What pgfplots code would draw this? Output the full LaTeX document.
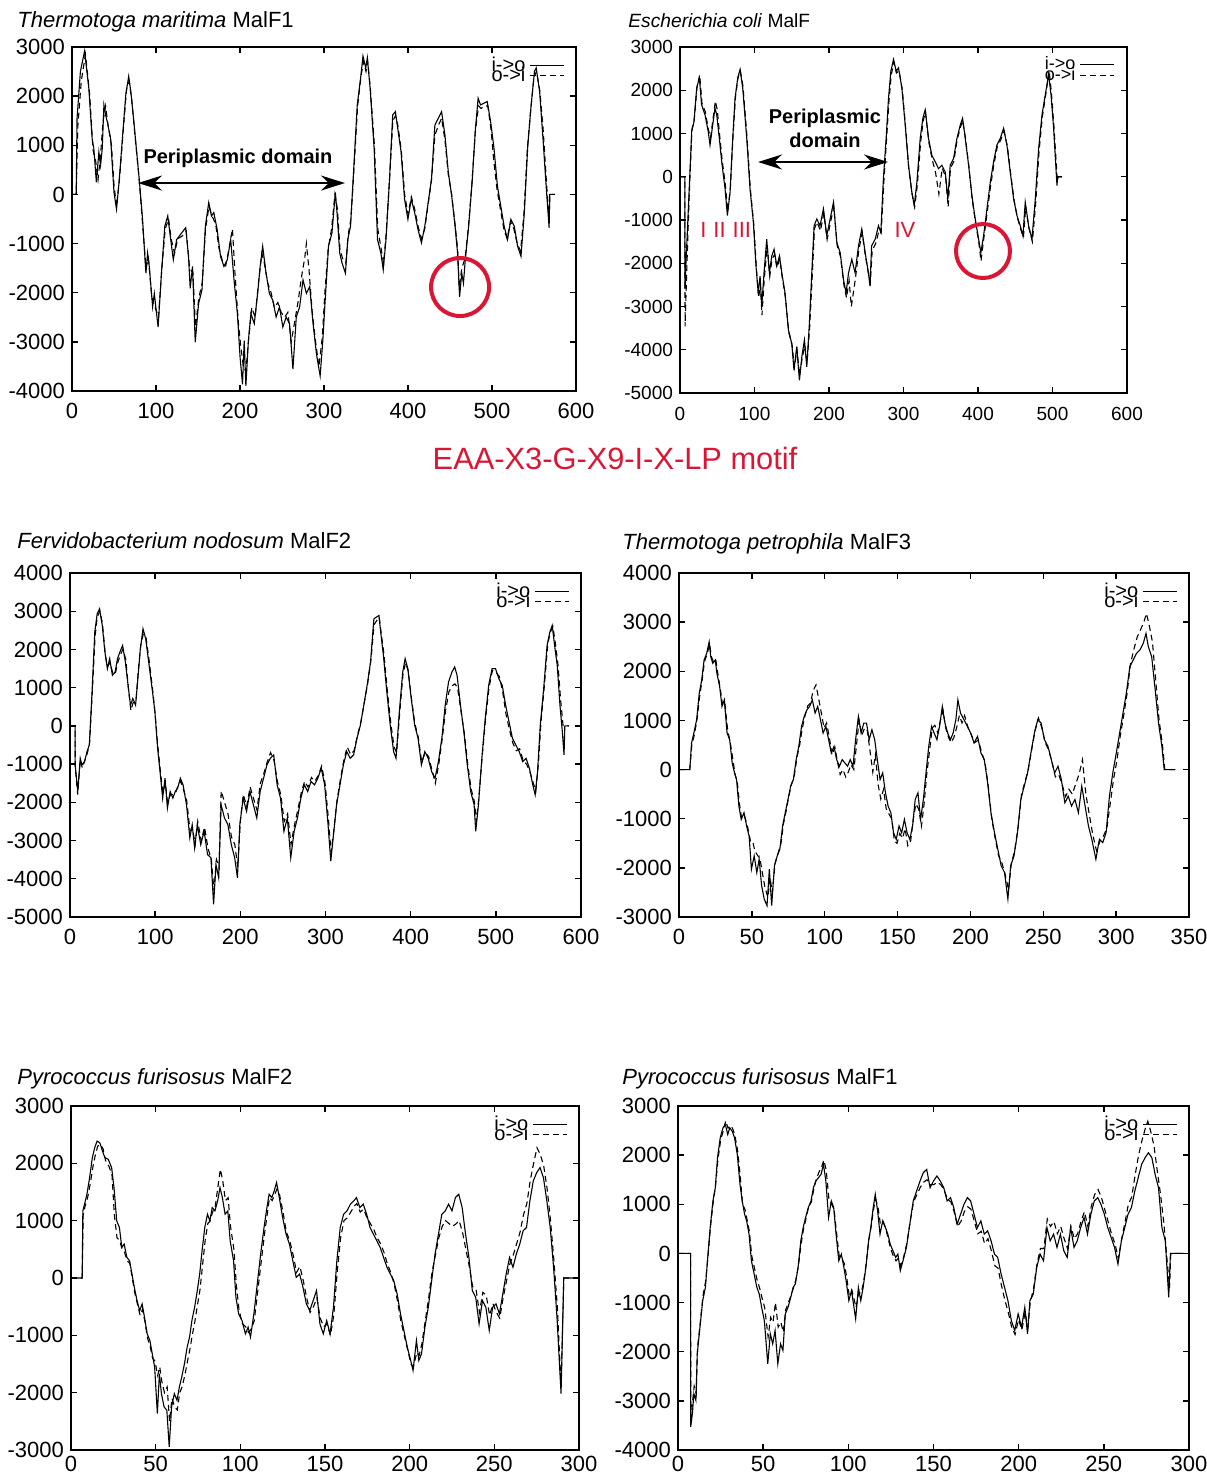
\documentclass[border=0pt]{standalone}
\usepackage{fontspec}
\setmainfont{Liberation Sans}
\usepackage{pgfplots}
\pgfplotsset{compat=1.18}
\usetikzlibrary{arrows.meta}
\definecolor{motifred}{RGB}{218,22,52}
\pgfplotsset{
  panel/.style={
    scale only axis, anchor=north west, clip=true,
    axis line style={line width=0.9pt},
    every tick/.style={black, line width=0.7pt},
    major tick length=3pt, tick align=inside, tick pos=both,
    scaled ticks=false,
    tick label style={font=\fontsize{11}{13}\selectfont},
    legend plot pos=right,
    legend style={draw=none, fill=none, anchor=north east, at={(0.978,0.985)},
      font=\fontsize{10}{10}\selectfont, row sep=-7.5pt, inner sep=0pt,
      cells={anchor=east}},
    legend image code/.code={\draw[##1] (0pt,0pt) -- (17pt,0pt);},
  },
  s/.style={black, line width=0.55pt},
  d/.style={black, line width=0.55pt, dash pattern=on 3pt off 2pt},
}
\begin{document}
\begin{tikzpicture}
\path[use as bounding box] (0,0) rectangle (603pt,-739.5pt);

% titles
\node[anchor=west, inner sep=0pt, font=\fontsize{11}{13}\selectfont] at (8.5pt,-11pt) {\textit{Thermotoga maritima} MalF1};
\node[anchor=west, inner sep=0pt, font=\fontsize{9.6}{11}\selectfont] at (314pt,-10.5pt) {\textit{Escherichia coli} MalF};
\node[anchor=west, inner sep=0pt, font=\fontsize{11}{13}\selectfont] at (8.5pt,-270.5pt) {\textit{Fervidobacterium nodosum} MalF2};
\node[anchor=west, inner sep=0pt, font=\fontsize{11}{13}\selectfont] at (311pt,-272pt) {\textit{Thermotoga petrophila} MalF3};
\node[anchor=west, inner sep=0pt, font=\fontsize{11}{13}\selectfont] at (8.5pt,-539.5pt) {\textit{Pyrococcus furisosus} MalF2};
\node[anchor=west, inner sep=0pt, font=\fontsize{11}{13}\selectfont] at (311pt,-539.5pt) {\textit{Pyrococcus furisosus} MalF1};
\node[text=motifred, font=\fontsize{15.4}{18}\selectfont] at (307.5pt,-229pt) {EAA-X3-G-X9-I-X-LP motif};

% ---------------- Panel 1 ----------------
\begin{axis}[panel, at={(36pt,-23.5pt)}, width=252pt, height=172pt,
  xticklabel style={yshift=-2.5pt},
  xmin=0, xmax=600, ymin=-4000, ymax=3000,
  xtick={0,100,...,600}, xticklabels={0,100,200,300,400,500,600},
  ytick={-4000,-3000,...,3000}, yticklabels={-4000,-3000,-2000,-1000,0,1000,2000,3000}]
\addplot[s] coordinates {(0,0)(5,0)(6,1548)(10,2500)(15,2918)(20,2164)(24,1137)(26,931)(29,247)(32,863)(34,589)(36,931)(38,1822)(40,1617)(42,1480)(46,1137)(50,41)(53,-301)(56,247)(60,1137)(64,2027)(67.5,2404)(70,2096)(74,1411)(80,315)(84,-507)(88,-1603)(90,-1192)(92,-1466)(96,-2288)(98,-2014)(102.5,-2699)(106.5,-1603)(110.5,-644)(114,-438)(116.5,-781)(120.6,-1329)(124.6,-918)(130.6,-781)(135.4,-678)(138.7,-1260)(140.7,-1911)(143.5,-1466)(146.7,-3007)(150.7,-2219)(154.7,-1945)(158.8,-644)(162.8,-164)(166,-438)(168.8,-370)(172.8,-712)(176.8,-1260)(180.9,-1466)(184.9,-1329)(188.9,-918)(192.9,-1740)(196.9,-2425)(200.1,-3315)(203,-3863)(205,-2973)(207,-3897)(210,-2973)(213,-2425)(217,-2630)(221,-2014)(224,-1466)(227,-1055)(231,-1603)(235,-2014)(239,-2151)(243,-2493)(247,-2288)(251,-2699)(255,-2493)(259,-2630)(263,-3555)(267,-2493)(271,-2288)(275,-1740)(279,-2014)(283,-1877)(287,-2630)(291,-3247)(295.4,-3692)(298.6,-2973)(301.4,-2151)(305.4,-1055)(309.5,-781)(313.5,41)(315.5,-370)(318.7,-1192)(321.5,-1397)(325.5,-1603)(328.3,-918)(331.6,-644)(335.6,589)(339.6,1822)(343.6,2370)(346.4,2815)(349.7,2575)(351.6,2781)(354.9,2164)(359.7,931)(363.7,-918)(367.7,-1192)(370.5,-1534)(373.8,-918)(377.8,247)(381.8,1617)(385,1685)(387.8,1343)(391.8,863)(395.9,-96)(399.9,-507)(403.9,-96)(407.9,-370)(411.9,-712)(416,-986)(420,-644)(424,-164)(428,315)(432,1411)(436,1548)(440,1685)(444,1206)(448,452)(452,-27)(456,-644)(459,-1192)(461.4,-2082)(464,-1603)(466,-1808)(468.2,-1329)(472.2,-644)(476.3,247)(480.3,1343)(483.5,1959)(486.3,1822)(490.3,1856)(494.3,1890)(498.4,1480)(502.4,931)(506.4,178)(510.4,-233)(514.4,-644)(518.5,-918)(522.5,-507)(526.5,-644)(530.5,-1055)(534.5,-1260)(538.5,-370)(542.6,1000)(546.6,1822)(550.6,2507)(552.6,2575)(556.7,2096)(560.7,1137)(564.7,110)(568,-678)(568.7,0)(574.7,0)};
\addplot[d] coordinates {(0,0)(5,0)(7,1400)(11,2300)(16,2850)(21,2050)(25,900)(28,700)(31,300)(34,800)(37,1500)(40,1800)(43,1400)(47,1000)(50,200)(53,-250)(57,400)(61,1300)(65,2150)(68,2300)(71,1950)(75,1200)(80,300)(84,-600)(88,-1500)(91,-1300)(95,-2100)(99,-2300)(103,-2500)(107,-1500)(111,-700)(115,-500)(118,-900)(122,-1200)(126,-900)(131,-850)(136,-750)(140,-1500)(144,-1600)(147,-2700)(151,-2100)(155,-1800)(159,-700)(163,-250)(167,-450)(171,-600)(175,-1100)(179,-1350)(183,-1450)(187,-1100)(191,-700)(194,-1600)(198,-2600)(201,-3100)(204,-3500)(207,-3600)(210,-3000)(214,-2300)(218,-2500)(222,-1800)(226,-1200)(229,-1400)(233,-1800)(237,-2000)(241,-2300)(245,-2200)(249,-2400)(253,-2500)(257,-2400)(261,-3000)(265,-2600)(269,-2200)(273,-1700)(277,-1300)(279,-1000)(282,-1500)(286,-2400)(290,-3000)(294,-3500)(298,-2900)(301,-2000)(305,-1100)(309,-700)(313,0)(316,-300)(319,-1100)(322,-1300)(326,-1400)(329,-800)(332,-500)(336,600)(340,1800)(344,2400)(347,2700)(350,2500)(352,2700)(355,2200)(360,1000)(364,-700)(368,-1100)(371,-1400)(374,-800)(378,300)(382,1500)(385,1600)(388,1400)(392,900)(396,0)(400,-400)(404,-50)(408,-300)(412,-650)(416,-900)(420,-700)(424,-200)(428,300)(432,1200)(436,1400)(440,1550)(444,1100)(448,400)(452,0)(456,-600)(459,-1100)(461,-1900)(464,-1500)(468,-1300)(472,-650)(476,200)(480,1250)(484,1800)(487,1750)(491,1800)(495,1800)(499,1300)(502,700)(506,100)(510,-300)(514,-700)(518,-900)(522,-550)(526,-700)(530,-1000)(534,-1150)(538,-400)(542,900)(546,1700)(550,2400)(553,2500)(557,2100)(561,1300)(565,200)(568,-500)(569,0)(575,0)};
\legend{i->o,o->i}
\node[font=\bfseries\fontsize{10}{12}\selectfont] at (axis cs:197.6,741) {Periplasmic domain};
\draw[{Stealth[length=12pt,width=7.5pt]}-{Stealth[length=12pt,width=7.5pt]}, line width=0.9pt] (axis cs:78.6,232) -- (axis cs:325,232);
\draw[motifred, line width=2pt] (axis cs:462,-1884) circle[radius=14.5pt];
\end{axis}

% ---------------- Panel 2 ----------------
\begin{axis}[panel, at={(340pt,-23.5pt)}, width=223.5pt, height=173pt,
  tick label style={font=\fontsize{9.5}{11}\selectfont},
  xticklabel style={yshift=-3.5pt},
  legend style={font=\fontsize{9}{9}\selectfont, at={(0.973,0.985)}, row sep=-6.5pt},
  xmin=0, xmax=600, ymin=-5000, ymax=3000,
  xtick={0,100,...,600}, xticklabels={0,100,200,300,400,500,600},
  ytick={-5000,-4000,...,3000}, yticklabels={-5000,-4000,-3000,-2000,-1000,0,1000,2000,3000}]
\addplot[s] coordinates {(0,0)(6.5,0)(6.7,-2600)(8,-2000)(11,-821)(15.7,1043)(18.8,1276)(22.4,2052)(26,2285)(29,1664)(33.6,1431)(37.9,1043)(40.3,732)(43.9,1198)(47,1586)(49.3,1431)(52.8,887)(56,344)(60.5,-280)(63.6,-899)(67.2,-357)(70.8,887)(73.9,1819)(77.5,2285)(80.6,2480)(84.2,2052)(89.6,887)(94,-280)(98.5,-1054)(102,-2064)(105,-2686)(107.5,-2297)(109.7,-2996)(112.8,-2220)(116.4,-1443)(120,-2220)(123.2,-1831)(126.3,-1676)(129.9,-2064)(133.5,-1831)(136.6,-2220)(141,-2686)(145.5,-3540)(150,-3851)(153,-4472)(156.7,-3929)(160.3,-4705)(163.5,-4162)(167,-3773)(170.2,-4394)(173.7,-3385)(176.9,-2220)(180,-1132)(183.6,-977)(188,-1132)(192.5,-744)(197,-1365)(201.5,-977)(206,-589)(210.5,-1520)(215,-1753)(219.4,-2375)(223,-2686)(226.2,-2220)(230.6,-1909)(235,-2220)(239.6,-1598)(244,-1210)(248.5,-1753)(252.9,-2220)(255,-2530)(257.2,-1598)(262,-1443)(266.4,-1132)(269.6,-1287)(273,-47)(276.7,887)(279.9,1819)(283,2441)(286.6,2713)(290.2,2441)(293.3,2518)(297.8,2052)(302.3,1198)(306.7,266)(311.2,-357)(314.4,-666)(318,-124)(322.4,887)(326,1353)(329.1,1547)(333.6,887)(338,499)(342.6,344)(347,189)(351.5,266)(356,111)(359.6,-512)(362.7,266)(367.2,422)(371.7,887)(376.2,1198)(379.3,1353)(382.9,887)(387.4,266)(391.8,-435)(396.3,-977)(400.8,-1443)(403.9,-1753)(407.5,-1365)(412,-744)(416.5,-124)(420.9,344)(425.4,732)(429.9,887)(434.4,1120)(438.8,732)(443.3,111)(447.8,-512)(452.3,-899)(456.7,-1132)(460.3,-1365)(463.4,-589)(467.9,-1132)(472.4,-1443)(476.9,-512)(481.4,655)(485.9,1431)(490.3,1897)(494.8,2363)(498,1897)(501.5,1120)(506,-202)(507,0)(513,0)};
\addplot[d] coordinates {(0,0)(6.5,0)(6.8,-3460)(9,-2200)(12,-600)(16,1100)(19,1300)(23,2100)(26.5,2350)(29.5,1700)(34,1500)(38,1100)(41,900)(44,1300)(47.5,1750)(50,1550)(53,1000)(56.5,400)(61,-200)(64,-800)(67.5,-300)(71,900)(74.5,1850)(78,2300)(81,2450)(84.5,2100)(90,900)(94.5,-300)(99,-1100)(102.5,-2100)(105.5,-2800)(108,-2500)(110,-3200)(113,-2400)(117,-1600)(120.5,-2300)(123.5,-1900)(127,-1800)(130,-2100)(134,-1900)(137,-2300)(141.5,-2800)(146,-3600)(150.5,-3900)(153.5,-4400)(157,-4000)(160.5,-4600)(164,-4200)(167.5,-3900)(170.5,-4300)(174,-3500)(177.5,-2300)(180.5,-1200)(184,-1050)(188.5,-1250)(193,-850)(197.5,-1450)(202,-1050)(206.5,-700)(211,-1600)(215.5,-1850)(220,-2500)(223.5,-2800)(227,-2400)(230,-3000)(235.5,-2350)(240,-1700)(244.5,-1300)(249,-1850)(253.5,-2300)(255.5,-2450)(258,-1700)(262.5,-1550)(267,-1250)(270,-1300)(273.5,-150)(277,800)(280.5,1750)(283.5,2350)(287,2650)(290.5,2400)(294,2450)(298.5,2000)(303,1100)(307,200)(311.5,-400)(315,-700)(318.5,-200)(323,800)(326.5,1300)(329.5,1500)(334,800)(338.5,400)(343,100)(347.5,-400)(352,200)(356.5,0)(360,-700)(363,200)(367.5,350)(372,850)(376.5,1150)(379.5,1300)(383.5,850)(388,200)(392,-500)(396.5,-1050)(401,-1500)(404,-1950)(408,-1400)(412.5,-800)(417,-200)(421.5,300)(426,700)(430.5,850)(435,1050)(439.5,700)(444,50)(448.5,-550)(453,-950)(457,-1200)(461,-1400)(464,-700)(468.5,-1200)(473,-1500)(477.5,-600)(482,600)(486.5,1400)(491,1900)(495.5,2450)(498.5,1950)(502,1150)(506.5,-100)(507.5,0)(513,0)};
\legend{i->o,o->i}
\node[font=\bfseries\fontsize{10}{12}\selectfont, align=center] at (axis cs:194.6,1127) {Periplasmic\\domain};
\draw[{Stealth[length=12pt,width=7.5pt]}-{Stealth[length=12pt,width=7.5pt]}, line width=0.9pt] (axis cs:104.7,341) -- (axis cs:279.2,341);
\node[anchor=west, text=motifred, font=\fontsize{11}{13}\selectfont, inner sep=0pt] at (axis cs:26.8,-1231) {I\hspace{3.5pt}II\hspace{3.5pt}III};
\node[text=motifred, font=\fontsize{11}{13}\selectfont] at (axis cs:302,-1231) {IV};
\draw[motifred, line width=2pt] (axis cs:406.7,-1717) circle[radius=13.5pt];
\end{axis}

% ---------------- Panel 3 ----------------
\begin{axis}[panel, at={(35pt,-286.5pt)}, width=255.5pt, height=172pt,
  xticklabel style={yshift=-2.5pt},
  xmin=0, xmax=600, ymin=-5000, ymax=4000,
  xtick={0,100,...,600}, xticklabels={0,100,200,300,400,500,600},
  ytick={-5000,-4000,...,4000}, yticklabels={-5000,-4000,-3000,-2000,-1000,0,1000,2000,3000,4000}]
\addplot[s] coordinates {(0,0)(6,0)(6.1,-1025)(9.2,-1716)(12,-847)(14,-1021)(17.1,-934)(20,-673)(22.7,-500)(25.9,890)(29.1,2454)(31.9,2932)(34.7,3062)(37.9,2627)(41,1933)(43.9,1498)(46.6,1759)(49.8,1324)(53,1411)(55.8,1759)(58.6,1933)(61.8,2106)(65,1672)(68.2,1064)(71,543)(73.8,716)(77,543)(79.7,1238)(82.5,1994)(85.7,2541)(88.9,2280)(92.9,1585)(96.9,890)(99.7,369)(102.9,-586)(105.7,-1195)(108.8,-1890)(111.6,-1369)(114.4,-2150)(117.6,-1716)(120.8,-1890)(123.6,-1716)(126.4,-1629)(129.6,-1369)(132.8,-1542)(136.8,-2063)(140.7,-2932)(143.5,-2584)(146.3,-3193)(149.5,-2584)(153.5,-3106)(157.5,-2758)(161.5,-3366)(165.5,-3453)(168.6,-4670)(171.4,-3627)(174.6,-3975)(177.4,-2063)(181.4,-2410)(185.4,-2584)(189.4,-3106)(193.4,-3453)(196.6,-3975)(199.4,-2584)(203.3,-1890)(207.3,-2237)(211.3,-1716)(215.3,-2063)(219.3,-2410)(223.3,-1716)(227.3,-1369)(231.2,-1021)(235.2,-847)(239.2,-760)(243.2,-1542)(247.2,-1890)(251.2,-2758)(255.2,-2410)(259.2,-3453)(263.2,-2758)(267.1,-2410)(271.1,-1890)(275.1,-1542)(279.1,-1716)(283.1,-1455)(287.1,-1542)(291,-1369)(295,-1108)(299,-1542)(303,-2584)(306.2,-3540)(309,-2932)(313,-2063)(317,-1542)(321,-1021)(325,-673)(329,-847)(333,-760)(337,-326)(341,21)(345,543)(348.9,1064)(352.9,1672)(356.8,2801)(359.6,2845)(362.8,2888)(364.8,2454)(368,1846)(372,890)(376,21)(380,-673)(382.8,-847)(386.7,369)(390.7,1411)(393.5,1759)(396.7,1498)(400.7,716)(404.7,21)(408.7,-326)(412.6,-1021)(416.6,-673)(420.6,-847)(424.6,-1195)(428.6,-1369)(432.6,-934)(436.6,-326)(440.6,543)(444.5,1151)(448.5,1411)(451.7,1542)(454.5,1324)(458.5,543)(462.5,-152)(466.5,-1021)(470.5,-1716)(474.5,-2063)(476.4,-2758)(479.6,-2063)(483.6,-847)(487.6,195)(491.6,1064)(495.6,1498)(499.6,1498)(503.5,1238)(507.5,1064)(511.5,543)(515.5,108)(519.5,-326)(523.5,-500)(527.5,-673)(531.5,-934)(535.5,-847)(539.4,-1108)(543.4,-1542)(546.2,-1803)(549,-1195)(552.2,21)(556.2,977)(560.2,2106)(563.4,2454)(566.2,2627)(569,2106)(572.1,1585)(575.3,543)(578.1,-152)(580.1,-760)(581,0)(586,0)};
\addplot[d] coordinates {(0,0)(6,0)(6.2,-1100)(9,-1800)(12,-900)(14.5,-1100)(17.5,-900)(20.5,-700)(23,-450)(26,800)(29.5,2350)(32,2850)(35,3000)(38,2700)(41.5,1850)(44,1550)(47,1650)(50,1400)(53,1350)(56,1650)(59,1850)(62,2000)(65.5,1750)(68.5,1000)(71.5,400)(74,600)(77.5,650)(80,1400)(83,2100)(86,2400)(89,2350)(93,1700)(97,950)(100,300)(103,-500)(106,-1150)(109,-1750)(112,-1500)(114.5,-2000)(118,-1800)(121,-1800)(124,-1750)(127,-1550)(130,-1450)(133,-1650)(137,-1950)(141,-2750)(144,-2700)(147,-3100)(150,-2500)(154,-3000)(158,-2650)(162,-3200)(166,-3500)(169,-4300)(172,-3500)(175,-3700)(177.5,-1700)(181.5,-2000)(185.5,-2300)(189.5,-2900)(193.5,-3100)(197,-3700)(200,-2500)(203.5,-1800)(207.5,-2100)(211.5,-1600)(215.5,-1900)(219.5,-2200)(223.5,-1500)(227.5,-1250)(231.5,-950)(235.5,-700)(239.5,-900)(243.5,-1450)(247.5,-1800)(251.5,-2500)(255.5,-2300)(259.5,-3100)(263.5,-2600)(267.5,-2200)(271.5,-1750)(275.5,-1450)(279.5,-1600)(283.5,-1350)(287.5,-1450)(291.5,-1300)(295.5,-1050)(299.5,-1500)(303.5,-2450)(306.5,-3300)(309.5,-2800)(313.5,-1950)(317.5,-1400)(321.5,-900)(325.5,-550)(329.5,-750)(333.5,-650)(337.5,-250)(341.5,100)(345.5,600)(349.5,1100)(353.5,1750)(357,2650)(360,2750)(363,2850)(365,2500)(368.5,1900)(372.5,950)(376.5,100)(380.5,-550)(383.5,-700)(387,300)(391,1350)(394,1650)(397,1450)(401,700)(405,50)(409,-300)(413,-950)(417,-700)(421,-800)(425,-1150)(429,-1500)(433,-1000)(437,-350)(441,400)(445,900)(449,1050)(452,1100)(455,1000)(459,400)(463,-200)(467,-1000)(471,-1650)(475,-2000)(477,-2500)(480,-1900)(484,-800)(488,200)(492,1000)(496,1450)(500,1400)(504,1300)(508,900)(512,300)(516,-100)(520,-450)(524,-650)(528,-600)(532,-900)(536,-1000)(540,-1200)(544,-1500)(547,-1700)(550,-1000)(553,100)(557,1050)(561,2150)(564,2450)(567,2600)(570,2150)(573,1600)(576,700)(579,0)(581,0)(586,0)};
\legend{i->o,o->i}
\end{axis}

% ---------------- Panel 4 ----------------
\begin{axis}[panel, at={(339.5pt,-286.5pt)}, width=255pt, height=172pt,
  xticklabel style={yshift=-2.5pt},
  xmin=0, xmax=350, ymin=-3000, ymax=4000,
  xtick={0,50,...,350}, xticklabels={0,50,100,150,200,250,300,350},
  ytick={-3000,-2000,...,4000}, yticklabels={-3000,-2000,-1000,0,1000,2000,3000,4000}]
\addplot[s] coordinates {(0,0)(7.4,0)(8.6,541)(10.2,743)(12.1,1014)(13.9,1554)(15.6,1824)(17.2,2230)(19,2365)(20.7,2601)(21.8,2297)(23.2,2162)(24.9,2230)(26,1959)(27.9,1689)(29.5,1284)(31.1,1419)(33,743)(34.8,608)(36.5,135)(38.1,-68)(39.5,-203)(41.1,-743)(42.7,-1014)(44.6,-878)(46.4,-1149)(48.1,-1351)(49.7,-2027)(51.6,-1757)(53.4,-2095)(55,-1824)(56.7,-2365)(58.5,-2635)(60.4,-2770)(62,-2027)(63.6,-2770)(65.5,-1959)(67.4,-1757)(69.2,-1622)(71.1,-1149)(72.9,-878)(74.8,-608)(76.6,-338)(78.5,-203)(80.4,203)(82.2,473)(84.1,878)(85.9,1081)(87.8,1216)(89.6,1284)(91.5,1419)(93.4,1149)(95.2,1284)(97.1,1014)(98.9,743)(100.8,878)(102.7,608)(104.5,338)(106.4,473)(108.2,203)(110.1,68)(112,203)(113.8,135)(115.7,68)(117.5,203)(119.4,68)(121.2,608)(123.1,1081)(125,743)(126.8,946)(128.7,946)(130.5,608)(132.4,811)(134.3,608)(136.1,203)(138,-203)(139.8,-68)(141.7,-473)(143.5,-743)(145.4,-878)(147.2,-1284)(149.1,-1419)(151,-1149)(152.8,-1284)(154.7,-1014)(156.5,-1284)(158.4,-1419)(160.3,-1149)(162.1,-608)(164,-473)(165.8,-1014)(167.7,-608)(169.5,-68)(171.4,473)(173.3,878)(175.1,743)(177,608)(178.8,878)(180.7,1284)(182.5,946)(184.4,743)(186.3,608)(188.1,743)(190,1014)(191.4,1419)(193.2,1149)(195.6,1014)(197.9,878)(200.2,743)(202.5,541)(204.9,676)(207.2,338)(209.5,203)(211.8,-270)(214.1,-878)(216.5,-1284)(218.8,-1622)(221.1,-1959)(223.4,-2095)(225.7,-2635)(227.6,-1959)(229.9,-1757)(232.3,-1284)(234.6,-608)(236.9,-338)(239.2,-68)(241.5,338)(243.9,743)(246.2,1014)(248.5,946)(250.8,608)(253.2,473)(255.5,203)(257.8,-68)(260.1,68)(262.4,-203)(264.8,-676)(267.1,-541)(269.4,-743)(271.7,-608)(274.1,-878)(276.4,-338)(278.7,-743)(281,-1149)(283.3,-1419)(286.1,-1824)(288.5,-1419)(290.8,-1486)(293.1,-1284)(295.4,-541)(297.7,-68)(300.1,338)(302.4,743)(304.7,1149)(307,1554)(309.4,2095)(311.7,2230)(314,2365)(316.3,2433)(318.6,2568)(320.5,2770)(322.1,2500)(324.4,2297)(326.8,1622)(329.1,946)(331.4,473)(333,0)(340.7,0)};
\addplot[d] coordinates {(0,0)(7.4,0)(8.8,500)(10.5,700)(12.5,1050)(14.2,1500)(16,1850)(17.5,2200)(19.3,2350)(21,2550)(22.2,2300)(23.5,2200)(25.2,2250)(26.4,2000)(28.3,1650)(30,1300)(31.5,1350)(33.4,800)(35.2,550)(37,200)(38.5,-100)(40,-250)(41.5,-700)(43,-1000)(45,-950)(47,-1150)(49,-1450)(50.5,-1450)(52,-1650)(54,-1750)(55.5,-1800)(57.2,-2100)(59,-2400)(61,-2600)(62.5,-2200)(64,-2500)(66,-1900)(68,-1700)(70,-1500)(71.7,-1100)(73.5,-850)(75.3,-550)(77.2,-300)(79,-150)(81,250)(82.8,500)(84.7,850)(86.5,1100)(88.4,1300)(90.2,1350)(92,1600)(94,1723)(95.8,1450)(97.7,1150)(99.5,850)(101.3,950)(103.2,650)(105,300)(107,450)(108.8,150)(110.6,-100)(112.5,0)(114.4,-150)(116.2,-50)(118,100)(120,0)(121.8,500)(123.6,1000)(125.5,700)(127.4,850)(129.2,800)(131,400)(133,-50)(134.8,300)(136.6,-300)(138.5,-600)(140.4,-400)(142.2,-800)(144,-900)(146,-1000)(147.8,-1450)(149.6,-1500)(151.5,-1300)(153.4,-1400)(155.2,-1200)(157,-1550)(159,-1450)(160.8,-1000)(162.6,-700)(164.5,-800)(166.4,-1150)(168.2,-700)(170,-100)(172,400)(173.8,850)(175.6,900)(177.5,750)(179.4,1000)(181.2,1200)(183,850)(185,650)(186.8,550)(188.6,650)(190.5,850)(192.4,1100)(194.2,950)(196,1100)(198.4,850)(200.7,700)(203,550)(205.4,600)(207.7,350)(210,150)(212.3,-350)(214.6,-1000)(217,-1400)(219.3,-1750)(221.6,-1900)(224,-2150)(226.2,-2450)(228.1,-1900)(230.4,-1650)(232.8,-1150)(235.1,-500)(237.4,-250)(239.7,0)(242,400)(244.4,800)(246.7,1050)(249,850)(251.3,550)(253.7,400)(256,150)(258.3,-150)(260.6,-100)(262.9,-300)(265.3,-550)(267.6,-400)(269.9,-500)(272.2,-300)(274.5,-100)(276.9,200)(279.2,-500)(281.5,-900)(283.8,-1300)(286.5,-1650)(289,-1450)(291.3,-1350)(293.6,-1200)(295.9,-700)(298.2,-200)(300.6,200)(302.9,700)(305.2,1100)(307.5,1550)(309.8,2150)(312.2,2450)(314.5,2700)(316.8,2850)(319,3000)(320.8,3176)(322.6,2950)(324.9,2600)(327.2,1800)(329.5,1000)(331.8,500)(333.4,0)(340.7,0)};
\legend{i->o,o->i}
\end{axis}

% ---------------- Panel 5 ----------------
\begin{axis}[panel, at={(35.5pt,-553pt)}, width=254pt, height=172pt,
  xticklabel style={yshift=0.5pt},
  xmin=0, xmax=300, ymin=-3000, ymax=3000,
  xtick={0,50,...,300}, xticklabels={0,50,100,150,200,250,300},
  ytick={-3000,-2000,...,3000}, yticklabels={-3000,-2000,-1000,0,1000,2000,3000}]
\addplot[s] coordinates {(0,0)(6.6,0)(7,1171)(8,1287)(9.4,1461)(11,1751)(12.6,2099)(14,2272)(15.4,2388)(17,2359)(18.6,2214)(20,2099)(22,2070)(24,1925)(25.4,1577)(27,997)(28.6,881)(30,533)(31.4,591)(33,359)(34.6,301)(36,70)(37.4,-162)(39,-394)(40.6,-568)(42,-452)(43.4,-684)(45,-974)(46.6,-1090)(48,-1322)(49.4,-1554)(51,-2365)(52.2,-1670)(53.4,-2017)(55,-2249)(56.6,-2307)(58,-2945)(59.4,-2249)(61,-2017)(62.6,-2133)(64,-1901)(65.4,-1727)(67,-1496)(68.6,-1206)(70,-1032)(71.4,-742)(73,-510)(74.6,-220)(76,70)(77.4,475)(79,881)(80.6,1113)(82,997)(83.4,1229)(85,1171)(86.6,1345)(88,1577)(89.4,1403)(91,1113)(92.6,1171)(94,649)(96,301)(97.4,-336)(99,-626)(101,-742)(103,-974)(104.6,-858)(106,-1032)(108,-626)(110,-104)(112,417)(114,881)(115.4,1171)(117,1461)(118.6,1403)(120,1519)(121.4,1664)(123,1403)(125,1055)(127,765)(129,591)(131,301)(133,12)(135,70)(137,-162)(139,-452)(141,-568)(143,-394)(145,-220)(147,-800)(149,-974)(151,-742)(153,-974)(155,-510)(157,301)(159,881)(161,1113)(163,1171)(165,1287)(167,1345)(168.6,1403)(170.6,1229)(172.6,1287)(174.6,1113)(176.6,881)(178.6,765)(180.6,649)(182.6,533)(184.6,359)(186.6,186)(188.6,70)(190.6,-46)(192.6,-278)(194.6,-626)(196.6,-916)(198.6,-1206)(200.6,-1438)(202,-1612)(204,-1090)(205.4,-1438)(207,-1322)(209,-858)(211,-510)(213,-46)(215,417)(217,765)(219,1113)(221,1171)(223,1287)(225,1171)(227,1403)(229,1461)(231,1229)(233,765)(235,359)(237,-220)(239,-336)(241,-800)(243,-394)(245,-510)(247,-916)(249,-510)(251,-452)(253,-626)(255,-278)(257,70)(259,359)(261,186)(263,417)(265,591)(267,823)(269,881)(271,1345)(273,1693)(275,1838)(277,1925)(279,1751)(281,1345)(283,881)(285,186)(287,-684)(289.4,-2017)(291,0)(300,0)};
\addplot[d] coordinates {(0,0)(6.6,0)(7.2,1100)(8.3,1250)(9.8,1400)(11.4,1650)(13,1950)(14.4,2150)(15.8,2300)(17.4,2330)(19,2250)(20.4,2050)(22.4,1950)(24.2,1800)(25.6,1100)(27.2,700)(28.8,650)(30.2,500)(31.6,450)(33.2,300)(34.8,250)(36.2,0)(37.6,-250)(39.2,-450)(40.8,-650)(42.2,-550)(43.6,-750)(45.2,-1050)(46.8,-1200)(48.2,-1400)(49.6,-1450)(51.2,-1700)(52.4,-1550)(53.6,-1800)(55.2,-2000)(56.8,-1900)(58.2,-2500)(59.6,-2100)(61.2,-2250)(62.8,-2300)(64.2,-2000)(65.6,-1900)(67.2,-1700)(68.8,-1450)(70.2,-1250)(71.6,-1000)(73.2,-750)(74.8,-450)(76.2,-200)(77.6,200)(79.2,650)(80.8,950)(82.2,1000)(83.6,1150)(85.2,1250)(86.8,1600)(88.2,1896)(89.6,1700)(91.2,1350)(92.8,1400)(94.2,900)(96.2,500)(97.6,-100)(99.2,-550)(101.2,-800)(103.2,-850)(104.8,-950)(106.2,-900)(108.2,-750)(110.2,-250)(112.2,250)(114.2,750)(115.6,1050)(117.2,1400)(118.8,1350)(120.2,1450)(121.6,1550)(123.2,1450)(125.2,1150)(127.2,800)(129.2,650)(131.2,400)(133.2,100)(135.2,200)(137.2,-50)(139.2,-350)(141.2,-600)(143.2,-500)(145.2,-350)(147.2,-700)(149.2,-850)(151.2,-800)(153.2,-1000)(155.2,-650)(157.2,100)(159.2,700)(161.2,1000)(163.2,1050)(165.2,1150)(167.2,1250)(168.8,1300)(170.8,1150)(172.8,1200)(174.8,1050)(176.8,950)(178.8,850)(180.8,700)(182.8,600)(184.8,450)(186.8,250)(188.8,100)(190.8,-100)(192.8,-400)(194.8,-750)(196.8,-1000)(198.8,-1250)(200.8,-1500)(202.2,-1550)(204.2,-1300)(205.6,-1350)(207.2,-1150)(209.2,-750)(211.2,-350)(213.2,100)(215.2,400)(217.2,700)(219.2,900)(221.2,1000)(223.2,950)(225.2,900)(227.2,939)(229.2,1000)(231.2,800)(233.2,500)(235.2,200)(237.2,-150)(239.2,-200)(241.2,-600)(243.2,-250)(245.2,-300)(247.2,-650)(249.2,-450)(251.2,-600)(253.2,-700)(255.2,-350)(257.2,-50)(259.2,250)(261.2,400)(263.2,600)(265.2,800)(267.2,1100)(269.2,1300)(271.2,1700)(273.2,2000)(275.2,2272)(277.2,2150)(279.2,1950)(281.2,1550)(283.2,1000)(285.2,300)(287.2,-500)(289.4,-1900)(291,0)(300,0)};
\legend{i->o,o->i}
\end{axis}

% ---------------- Panel 6 ----------------
\begin{axis}[panel, at={(339pt,-553pt)}, width=255.5pt, height=172pt,
  xticklabel style={yshift=0.5pt},
  xmin=0, xmax=300, ymin=-4000, ymax=3000,
  xtick={0,50,...,300}, xticklabels={0,50,100,150,200,250,300},
  ytick={-4000,-3000,...,3000}, yticklabels={-4000,-3000,-2000,-1000,0,1000,2000,3000}]
\addplot[s] coordinates {(0,0)(7.4,0)(7.45,-3530)(8.5,-3246)(9.3,-2854)(10.5,-2989)(11.3,-2042)(12.9,-1501)(14.5,-960)(16.1,-690)(17.3,-149)(18.9,527)(20.5,1069)(21.9,1339)(23.2,1948)(24.8,2354)(26.4,2556)(27.8,2624)(29.2,2421)(30.4,2556)(31.8,2489)(33.2,2354)(34.8,2015)(36.4,1407)(37.7,1069)(39.1,798)(40.3,663)(41.7,392)(43.1,-149)(44.7,-419)(46.3,-690)(47.7,-825)(49.1,-1096)(50.7,-1366)(52.7,-2245)(54.2,-1637)(55.6,-1840)(57,-1569)(58.6,-2245)(60.2,-1840)(61.6,-1975)(63,-1231)(64.6,-1096)(66.2,-893)(67.6,-690)(68.9,-622)(70.5,-284)(72.1,257)(73.5,527)(74.9,730)(76.5,933)(78.1,1069)(79.5,1339)(80.9,1474)(82.5,1542)(84,1610)(85.4,1813)(86.8,1474)(88.4,730)(90,1069)(91.4,933)(92.8,392)(94.4,-149)(95.9,-14)(97.4,-284)(98.7,-555)(100.3,-960)(101.9,-757)(103.3,-1096)(104.3,-1332)(105.9,-690)(107.3,-960)(108.7,-690)(110.3,-284)(111.9,257)(113.2,527)(114.6,933)(115.8,1204)(117.2,866)(118.6,392)(120.2,663)(121.8,527)(123.2,392)(124.6,189)(126.2,54)(127.8,-81)(129.1,-14)(130.5,-352)(132.1,-149)(134.1,122)(136.1,595)(138.1,1069)(140.1,1271)(142.1,1474)(144,1643)(146,1711)(148,1339)(150,1474)(152,1576)(154,1474)(156,1339)(158,1069)(160,1136)(161.9,933)(163.9,595)(165.9,798)(167.9,1001)(169.9,1136)(171.8,1069)(173.8,798)(175.8,527)(177.8,663)(179.8,392)(181.8,460)(183.8,257)(185.8,-14)(187.7,-81)(189.7,-419)(191.7,-690)(193.7,-960)(195.7,-1366)(197.7,-1569)(199.7,-1231)(201.7,-1501)(203.6,-1096)(205.2,-1637)(206.6,-960)(208.6,-825)(210.6,-284)(212.6,-14)(214.6,-149)(216.6,527)(218.5,257)(220.5,392)(222.5,122)(224.5,392)(226.5,54)(228.5,-81)(230.5,527)(232.5,122)(234.4,257)(236.4,527)(238.4,730)(240.4,392)(242.4,798)(244.4,1069)(246.4,1136)(248.3,1001)(250.3,798)(252.3,527)(254.3,325)(256.3,122)(258.3,-216)(260.3,257)(262.3,527)(264.2,798)(266.2,933)(268.2,1271)(270.2,1542)(272.2,1813)(274.2,1948)(276.2,2049)(278.2,1948)(280.1,1610)(282.1,1339)(284.1,527)(286.1,257)(288.1,-893)(289.1,0)(297,0)};
\addplot[d] coordinates {(0,0)(7.4,0)(7.5,-3400)(8.6,-3000)(9.5,-2700)(10.7,-2850)(11.5,-1900)(13.1,-1400)(14.7,-850)(16.3,-550)(17.5,-100)(19.1,550)(20.7,1050)(22.1,1400)(23.4,1900)(25,2300)(26.6,2500)(28,2700)(29.4,2550)(30.6,2600)(32,2550)(33.4,2400)(35,2100)(36.6,1550)(37.9,1000)(39.3,900)(40.5,700)(41.9,450)(43.3,-50)(44.9,-300)(46.5,-550)(47.9,-700)(49.3,-900)(50.9,-1100)(52.9,-1700)(54.4,-1300)(55.8,-1400)(57.2,-1000)(58.8,-1500)(60.4,-1400)(61.8,-1600)(63.2,-1150)(64.8,-1000)(66.4,-850)(67.8,-700)(69.1,-550)(70.7,-250)(72.3,200)(73.7,500)(75.1,700)(76.7,950)(78.3,1050)(79.7,1300)(81.1,1500)(82.7,1650)(84.2,1750)(85.6,1900)(87,1700)(88.6,1100)(90.2,1000)(91.6,900)(93,450)(94.6,-50)(96.1,-100)(97.6,-200)(98.9,-450)(100.5,-850)(102.1,-750)(103.5,-950)(104.5,-1100)(106.1,-800)(107.5,-800)(108.9,-600)(110.5,-200)(112.1,300)(113.4,550)(114.8,900)(116,1100)(117.4,950)(118.8,600)(120.4,650)(122,500)(123.4,300)(124.8,100)(126.4,-50)(128,-150)(129.3,-100)(130.7,-250)(132.3,-100)(134.3,200)(136.3,650)(138.3,1050)(140.3,1200)(142.3,1350)(144.2,1450)(146.2,1500)(148.2,1400)(150.2,1400)(152.2,1450)(154.2,1400)(156.2,1300)(158.2,1100)(160.2,1050)(162.1,850)(164.1,550)(166.1,650)(168.1,850)(170.1,950)(172,900)(174,650)(176,400)(178,450)(180,200)(182,300)(184,50)(186,-250)(187.9,-300)(189.9,-650)(191.9,-950)(193.9,-1200)(195.9,-1500)(197.9,-1650)(199.9,-1350)(201.9,-1550)(203.8,-1200)(205.4,-1500)(206.8,-1000)(208.8,-700)(210.8,-200)(212.8,100)(214.8,100)(216.8,700)(218.7,550)(220.7,650)(222.7,400)(224.7,550)(226.7,300)(228.7,100)(230.7,550)(232.7,300)(234.6,400)(236.6,650)(238.6,850)(240.6,550)(242.6,950)(244.6,1200)(246.6,1300)(248.5,1150)(250.5,900)(252.5,650)(254.5,400)(256.5,200)(258.5,-100)(260.5,300)(262.5,650)(264.4,1000)(266.4,1150)(268.4,1600)(270.4,2000)(272.4,2300)(274.4,2550)(275.8,2692)(277.4,2500)(279.4,2200)(281.3,1700)(283.3,1200)(285.3,600)(287.3,-200)(288.6,-700)(289.3,0)(297,0)};
\legend{i->o,o->i}
\end{axis}
\end{tikzpicture}
\end{document}
